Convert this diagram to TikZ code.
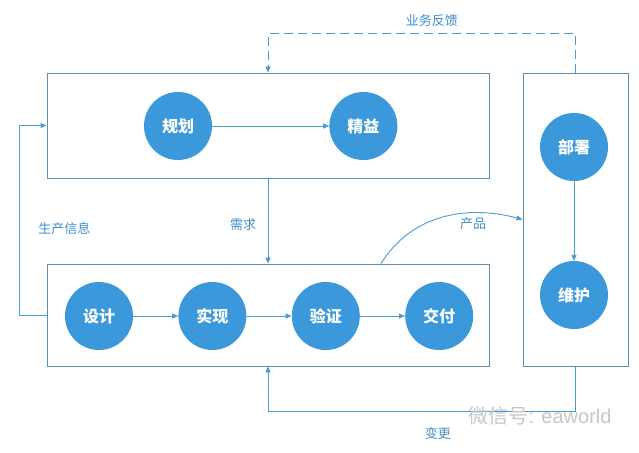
\documentclass[tikz,border=0pt]{standalone}
\usepackage{fontspec}
\newfontfamily\cjk{Noto Sans CJK SC}
\usetikzlibrary{arrows.meta, positioning}

\definecolor{stepblue}{HTML}{3A98DB}
\definecolor{lineblue}{HTML}{4A9BD2}
\definecolor{frameblue}{HTML}{5F8FAE}
\definecolor{labelblue}{HTML}{3D8FCF}

\begin{document}
\begin{tikzpicture}[
      x=1pt, y=-1pt,
      node distance=45pt,
      stage/.style={circle, fill=stepblue, minimum size=68pt, inner sep=0pt, text=white, font=\cjk\bfseries\fontsize{16}{16}\selectfont},
      frame/.style={draw=frameblue, line width=0.9pt, inner sep=0pt},
      lbl/.style={text=labelblue, font=\cjk\fontsize{13}{13}\selectfont},
      arr/.style={-{Triangle[length=6pt,width=5pt]}, draw=lineblue, line width=0.9pt},
    ]
    \useasboundingbox (0,0) rectangle (639,452);

    % boxes
    \node[frame, minimum width=442pt, minimum height=105pt] (plan) at (268,125.5) {};
    \node[frame, minimum width=442pt, minimum height=102pt] (build) at (268,315) {};
    \node[frame, minimum width=105pt, minimum height=293pt] (ops) at (575.5,219.5) {};

    % stages
    \node[stage] (guihua) at (178,126) {规划};
    \node[stage, right=117pt of guihua] (jingyi) {精益};
    \node[stage] (sheji) at (99,316) {设计};
    \node[stage, right=of sheji] (shixian) {实现};
    \node[stage, right=of shixian] (yanzheng) {验证};
    \node[stage, right=of yanzheng] (jiaofu) {交付};
    \node[stage] (bushu) at (574,147) {部署};
    \node[stage] (weihu) at (574,295) {维护};

    \draw[arr] (guihua) -- (jingyi);
    \draw[arr] (sheji) -- (shixian);
    \draw[arr] (shixian) -- (yanzheng);
    \draw[arr] (yanzheng) -- (jiaofu);
    \draw[arr] (bushu) -- (weihu);

    % flows between boxes
    \draw[arr] (plan.south) -- node[lbl, left=8pt, yshift=-4pt]{需求} (build.north);
    \draw[arr, dashed, dash pattern=on 9pt off 5pt] (ops.north) -- ++(0,-39)
      -| node[lbl, pos=.25, above=3pt, xshift=10pt]{业务反馈} (plan.north);
    \draw[arr] (build.west) -- ++(-27,0)
      |- node[lbl, pos=.25, right=15pt, yshift=-8pt]{生产信息} (plan.west);
    \draw[arr] (ops.south) -- ++(0,45)
      -| node[lbl, pos=.25, below=12pt, xshift=16pt]{变更} (build.south);
    \draw[arr] ([xshift=113pt]build.north) to[out=58, in=165]
      node[lbl, pos=.7, below=1pt]{产品} (ops.west);

    \node[text=gray!45, font=\fontspec{Liberation Sans}\fontsize{20}{20}\selectfont] (mark) at (540,416) {{\cjk 微信号}: eaworld};
  \end{tikzpicture}
\end{document}
